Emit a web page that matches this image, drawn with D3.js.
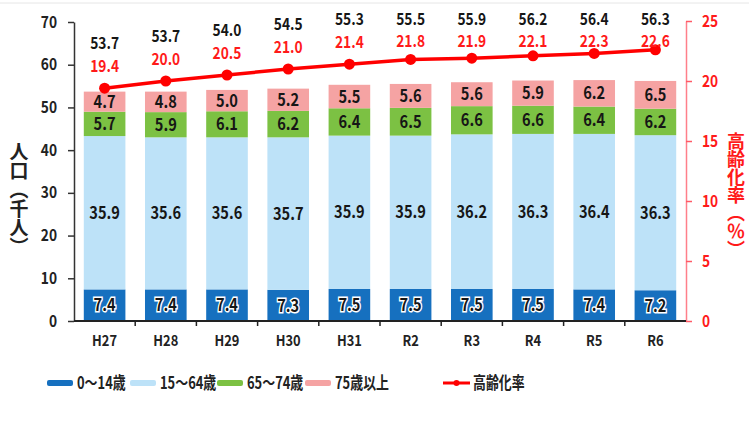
<!DOCTYPE html>
<html>
<head>
<meta charset="utf-8">
<script src="https://cdn.jsdelivr.net/npm/d3@7"></script>
<style>
  body { margin: 0; background: #fff; }
  svg { display: block; }
  .num { font-family: "Liberation Sans Narrow", "Noto Sans CJK JP", sans-serif; font-weight: bold; }
  .jp { font-family: "Noto Sans CJK JP", sans-serif; font-weight: bold; }
</style>
</head>
<body>
<div id="chart"></div>
<script>
// data
var years = ["H27", "H28", "H29", "H30", "H31", "R2", "R3", "R4", "R5", "R6"];
var age0_14 = [7.4, 7.4, 7.4, 7.3, 7.5, 7.5, 7.5, 7.5, 7.4, 7.2];
var age15_64 = [35.9, 35.6, 35.6, 35.7, 35.9, 35.9, 36.2, 36.3, 36.4, 36.3];
var age65_74 = [5.7, 5.9, 6.1, 6.2, 6.4, 6.5, 6.6, 6.6, 6.4, 6.2];
var age75 = [4.7, 4.8, 5.0, 5.2, 5.5, 5.6, 5.6, 5.9, 6.2, 6.5];
var totals = [53.7, 53.7, 54.0, 54.5, 55.3, 55.5, 55.9, 56.2, 56.4, 56.3];
var rate = [19.4, 20.0, 20.5, 21.0, 21.4, 21.8, 21.9, 22.1, 22.3, 22.6];
var leftTicks = [0, 10, 20, 30, 40, 50, 60, 70];
var rightTicks = [0, 5, 10, 15, 20, 25];
var seriesNames = ["0～14歳", "15～64歳", "65～74歳", "75歳以上"];
var seriesColors = ["#1670bf", "#bde2f8", "#7cc143", "#f5a3a3"];

var width = 749, height = 422;
var sx = 0.86; // horizontal squeeze, the original font is condensed
var svg = d3.select("#chart").append("svg")
  .attr("width", width).attr("height", height);

svg.append("line").attr("x1", 0).attr("x2", width).attr("y1", 3).attr("y2", 3)
  .attr("stroke", "#e6e6e6").attr("stroke-width", 1);

var x = d3.scaleBand().domain(years).range([74, 686]).paddingInner(0.32).paddingOuter(0.16);
var y = d3.scaleLinear().domain([0, 70]).range([321, 22]);
var y2 = d3.scaleLinear().domain([0, 25]).range([321, 21]);

function cx(i) { return x(years[i]) + x.bandwidth() / 2; }
function at(px, py) { return "translate(" + px + "," + py + ") scale(" + sx + ",1)"; }

var rows = years.map(function(yr, i) {
  return { year: yr, a: age0_14[i], b: age15_64[i], c: age65_74[i], d: age75[i] };
});
var layers = d3.stack().keys(["a", "b", "c", "d"])(rows);

// bars
var g = svg.append("g");
layers.forEach(function(layer, li) {
  g.selectAll(".bar" + li)
    .data(layer)
    .enter()
    .append("rect")
    .attr("x", function(d) { return x(d.data.year); })
    .attr("width", x.bandwidth())
    .attr("y", function(d) { return y(d[1]); })
    .attr("height", function(d) { return y(d[0]) - y(d[1]); })
    .attr("fill", seriesColors[li]);
});

// segment labels
layers.forEach(function(layer, li) {
  g.selectAll(".lab" + li)
    .data(layer)
    .enter()
    .append("text")
    .attr("class", "num")
    .attr("transform", function(d, i) { return at(cx(i), (y(d[0]) + y(d[1])) / 2); })
    .attr("dy", "0.36em")
    .attr("text-anchor", "middle")
    .attr("font-size", 17)
    .attr("fill", "#161616")
    .attr("stroke", li == 0 ? "#fff" : "none")
    .attr("stroke-width", 3)
    .attr("paint-order", "stroke")
    .text(function(d) { return (d[1] - d[0]).toFixed(1); });
});

// left axis
var la = svg.append("g").attr("transform", "translate(74,0)")
  .call(d3.axisLeft(y).tickValues(leftTicks).tickSize(6).tickSizeOuter(0));
la.select(".domain").attr("stroke", "#333").attr("stroke-width", 1.5);
la.selectAll(".tick line").attr("stroke", "#333").attr("stroke-width", 1.5);
la.selectAll(".tick text").attr("class", "num").attr("font-size", 16).attr("fill", "#222")
  .attr("x", 0).attr("transform", "translate(-17,0) scale(" + sx + ",1)");

// right axis
var ra = svg.append("g").attr("transform", "translate(686,0)")
  .call(d3.axisRight(y2).tickValues(rightTicks).tickSize(6).tickSizeOuter(0));
ra.select(".domain").attr("stroke", "#ff7f8a").attr("stroke-width", 1.5);
ra.selectAll(".tick line").attr("stroke", "#ff5a66").attr("stroke-width", 1.5);
ra.selectAll(".tick text").attr("class", "num").attr("font-size", 16).attr("fill", "#ff1a1a")
  .attr("x", 0).attr("transform", "translate(16,0) scale(" + sx + ",1)");

// bottom axis
var xa = svg.append("g").attr("transform", "translate(0,321)");
xa.append("line").attr("x1", 74).attr("x2", 686).attr("stroke", "#222").attr("stroke-width", 2);
xa.selectAll(".sep")
  .data(years.slice(1))
  .enter()
  .append("line")
  .attr("x1", function(d) { return x(d) - x.step() * x.paddingInner() / 2; })
  .attr("x2", function(d) { return x(d) - x.step() * x.paddingInner() / 2; })
  .attr("y1", 0).attr("y2", 5)
  .attr("stroke", "#222").attr("stroke-width", 1.5);
xa.selectAll(".cat")
  .data(years)
  .enter()
  .append("text")
  .attr("class", "num")
  .attr("transform", function(d, i) { return at(cx(i), 25); })
  .attr("text-anchor", "middle")
  .attr("font-size", 15)
  .attr("fill", "#222")
  .text(function(d) { return d; });

// rate line
var line = d3.line()
  .x(function(d, i) { return cx(i); })
  .y(function(d) { return y2(d); });
svg.append("path").datum(rate)
  .attr("d", line)
  .attr("fill", "none")
  .attr("stroke", "#ff0000")
  .attr("stroke-width", 3.5);
svg.selectAll(".dot")
  .data(rate)
  .enter()
  .append("circle")
  .attr("cx", function(d, i) { return cx(i); })
  .attr("cy", function(d) { return y2(d); })
  .attr("r", 5.5)
  .attr("fill", "#ff0000");

// totals and rate labels above the line
function totalY(i) { return Math.max(19, y2(rate[i]) - 45); }
function rateLabelY(i) { return Math.max(y2(rate[i]) - 22, totalY(i) + 22); }
svg.selectAll(".tot")
  .data(totals)
  .enter()
  .append("text")
  .attr("class", "num")
  .attr("transform", function(d, i) { return at(cx(i), totalY(i)); })
  .attr("dy", "0.36em")
  .attr("text-anchor", "middle")
  .attr("font-size", 16)
  .attr("fill", "#161616")
  .text(function(d) { return d.toFixed(1); });
svg.selectAll(".rl")
  .data(rate)
  .enter()
  .append("text")
  .attr("class", "num")
  .attr("transform", function(d, i) { return at(cx(i), rateLabelY(i)); })
  .attr("dy", "0.36em")
  .attr("text-anchor", "middle")
  .attr("font-size", 16)
  .attr("fill", "#ff1a1a")
  .text(function(d) { return d.toFixed(1); });

// axis titles (vertical)
svg.append("text")
  .attr("class", "jp")
  .attr("x", 19).attr("y", 142)
  .attr("writing-mode", "vertical-rl")
  .attr("font-size", 19)
  .attr("font-weight", 500)
  .attr("fill", "#222")
  .text("人口（千人）");
svg.append("text")
  .attr("class", "jp")
  .attr("x", 736).attr("y", 132)
  .attr("writing-mode", "vertical-rl")
  .attr("font-size", 18)
  .attr("fill", "#ff1a1a")
  .text("高齢化率（％）");

// legend
var legX = [47, 130, 217, 305];
var leg = svg.append("g").attr("transform", "translate(0,383)");
seriesNames.forEach(function(name, i) {
  leg.append("rect").attr("x", legX[i]).attr("y", -3).attr("width", 26).attr("height", 6)
    .attr("rx", 2).attr("fill", seriesColors[i]);
  leg.append("text").attr("class", "jp")
    .attr("transform", "translate(" + (legX[i] + 30) + ",0) scale(0.76,1)")
    .attr("dy", "0.36em").attr("font-size", 17).attr("fill", "#222")
    .text(name);
});
leg.append("line").attr("x1", 443).attr("x2", 470).attr("stroke", "#ff0000").attr("stroke-width", 3);
leg.append("circle").attr("cx", 456.5).attr("cy", 0).attr("r", 3).attr("fill", "#ff0000");
leg.append("text").attr("class", "jp")
  .attr("transform", "translate(473,0) scale(0.76,1)")
  .attr("dy", "0.36em").attr("font-size", 17).attr("fill", "#222")
  .text("高齢化率");
</script>
</body>
</html>
